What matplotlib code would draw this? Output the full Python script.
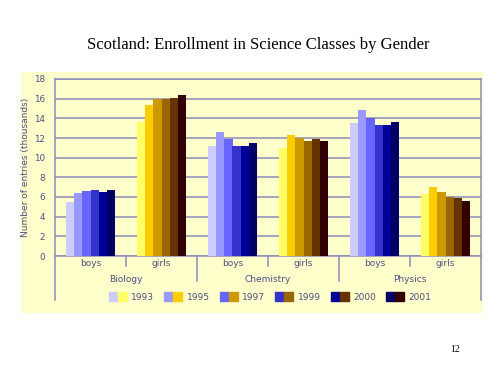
import numpy as np
import matplotlib.pyplot as plt
from matplotlib.patches import Patch, Rectangle
from matplotlib.legend_handler import HandlerTuple
import matplotlib.transforms as mtransforms

# -----------------------------
# DATA
# -----------------------------
subjects = ["Biology", "Chemistry", "Physics"]
genders = ["boys", "girls"]
years = ["1993", "1995", "1997", "1999", "2000", "2001"]

# thousands of entries, one list per year: [Bio boys, Bio girls, Chem boys, Chem girls, Phys boys, Phys girls]
y1993 = [5.5, 13.6, 11.2, 11.0, 13.5, 6.3]
y1995 = [6.4, 15.4, 12.6, 12.3, 14.8, 7.0]
y1997 = [6.6, 16.0, 11.9, 12.0, 14.0, 6.5]
y1999 = [6.7, 16.0, 11.2, 11.7, 13.3, 6.0]
y2000 = [6.5, 16.1, 11.2, 11.9, 13.3, 5.9]
y2001 = [6.7, 16.4, 11.5, 11.7, 13.6, 5.6]
values = [y1993, y1995, y1997, y1999, y2000, y2001]

boy_colors = ["#CCCCFF", "#9999FF", "#6666FF", "#3333CC", "#000099", "#000066"]
girl_colors = ["#FFFF66", "#FFCC00", "#CC9900", "#996600", "#663300", "#330000"]

# -----------------------------
# FIGURE
# -----------------------------
W, H = 499, 374
fig = plt.figure(figsize=(W / 100, H / 100), dpi=100)
fig.patch.set_facecolor("white")

# pale yellow chart panel (behind the axes)
fig.patches.append(Rectangle((21 / W, 1 - 313 / H), (483 - 21) / W, (313 - 72) / H,
                             transform=fig.transFigure, facecolor="#FFFFCC",
                             edgecolor="none", zorder=-5))

ax = fig.add_axes([55 / W, 1 - 256 / H, (481 - 55) / W, (256 - 79) / H])
ax.set_facecolor("#FFFFCC")

text_col = "#4D4D80"
line_col = "#8C8CB8"

n_groups = len(subjects) * len(genders)
x = np.arange(n_groups)
bw = 0.116
for i, yr in enumerate(years):
    cols = [boy_colors[i] if g % 2 == 0 else girl_colors[i] for g in range(n_groups)]
    ax.bar(x + (i - 2.5) * bw, values[i], width=bw, color=cols, zorder=3)

ax.set_xlim(-0.5, n_groups - 0.5)
ax.set_ylim(0, 18)
ax.set_yticks(range(0, 19, 2))
ax.tick_params(axis="y", length=0, pad=7, labelsize=6.3, labelcolor=text_col)
ax.set_xticks([])
ax.yaxis.grid(True, color=line_col, linewidth=1.1, zorder=1)
ax.set_axisbelow(True)
for s in ax.spines.values():
    s.set_color(line_col)
    s.set_linewidth(1.1)

ax.set_ylabel("Number of entries (thousands)", fontsize=6.5, color=text_col, labelpad=3)

# multi-level category axis
trans = mtransforms.blended_transform_factory(ax.transData, ax.transAxes)
px = 1 / (256 - 79)
for g in range(n_groups):
    ax.text(x[g], -8 * px, genders[g % 2], transform=trans, ha="center", va="center",
            fontsize=6.5, color=text_col)
for s, name in enumerate(subjects):
    ax.text(2 * s + 0.5, -24 * px, name, transform=trans, ha="center", va="center",
            fontsize=6.5, color=text_col)
    # short divider between boys and girls
    ax.plot([2 * s + 0.5, 2 * s + 0.5], [0, -10 * px], transform=trans,
            color=line_col, lw=1.1, clip_on=False)
for b in range(1, len(subjects)):
    ax.plot([2 * b - 0.5, 2 * b - 0.5], [0, -25 * px], transform=trans,
            color=line_col, lw=1.1, clip_on=False)
for edge in (-0.5, n_groups - 0.5):
    ax.plot([edge, edge], [0, -44 * px], transform=trans,
            color=line_col, lw=1.1, clip_on=False)

# legend with paired swatches
handles = [(Patch(color=boy_colors[i]), Patch(color=girl_colors[i])) for i in range(len(years))]
ax.legend(handles, years, handler_map={tuple: HandlerTuple(ndivide=None, pad=0)},
          loc="center", bbox_to_anchor=(0.505, -41 * px), ncol=6, frameon=False,
          fontsize=6.5, labelcolor=text_col, handlelength=2.0, handleheight=1.2,
          handletextpad=0.5, columnspacing=1.1)

fig.text(258 / W, 1 - 45 / H, "Scotland: Enrollment in Science Classes by Gender",
         ha="center", va="center", fontsize=12, family="Liberation Serif")
fig.text(455 / W, 1 - 350 / H, "12", ha="center", va="center", fontsize=7,
         family="Liberation Serif")

fig.savefig("out.png", dpi=100)
